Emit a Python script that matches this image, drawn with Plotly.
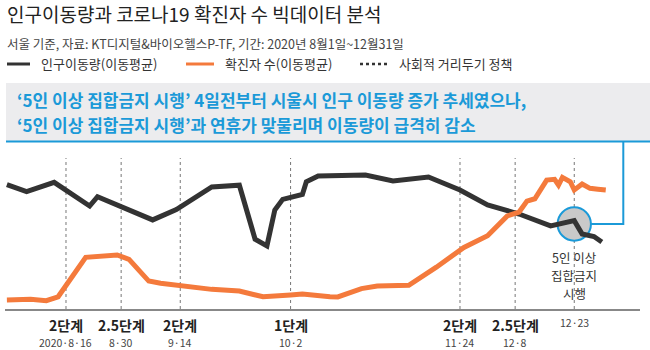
import plotly.graph_objects as go

W, H = 650, 350
FONT = "Noto Sans CJK KR"

# ---- data ----
move_dates = ["2020-08-01", "2020-08-06", "2020-08-13", "2020-08-22", "2020-08-24", "2020-09-07",
              "2020-09-13", "2020-09-22", "2020-09-29", "2020-10-03", "2020-10-06", "2020-10-08",
              "2020-10-10", "2020-10-15", "2020-10-16", "2020-10-19", "2020-10-31", "2020-11-07",
              "2020-11-16", "2020-11-24", "2020-12-01", "2020-12-09", "2020-12-17", "2020-12-23",
              "2020-12-25", "2020-12-28", "2020-12-30"]
move_vals = [82.3, 77.7, 83.9, 68.2, 74.4, 59.0, 65.8, 80.8, 82.0, 46.2, 41.8, 65.6,
             72.6, 75.9, 84.3, 88.1, 88.7, 84.8, 87.4, 78.8, 68.9, 62.9, 55.0, 58.5,
             49.7, 48.0, 44.4]

case_dates = ["2020-08-01", "2020-08-07", "2020-08-11", "2020-08-14", "2020-08-21", "2020-08-29",
              "2020-09-01", "2020-09-06", "2020-09-09", "2020-09-14", "2020-09-22", "2020-09-29",
              "2020-10-05", "2020-10-12", "2020-10-15", "2020-10-22", "2020-10-24", "2020-10-30",
              "2020-11-03", "2020-11-11", "2020-11-18", "2020-11-25", "2020-12-01", "2020-12-06",
              "2020-12-09", "2020-12-11", "2020-12-13", "2020-12-16", "2020-12-18", "2020-12-19",
              "2020-12-20", "2020-12-22", "2020-12-23", "2020-12-25", "2020-12-27", "2020-12-29",
              "2020-12-31"]
case_vals = [6.0, 6.4, 5.5, 8.1, 34.2, 35.8, 32.9, 18.5, 17.0, 15.2, 13.0, 11.9,
             8.1, 9.3, 9.9, 8.1, 8.0, 13.5, 15.2, 15.7, 27.7, 40.8, 48.5, 61.6,
             64.2, 71.5, 73.0, 85.4, 85.9, 82.1, 87.2, 84.3, 78.8, 82.8, 79.9, 79.3,
             78.8]

policy_dates = ["2020-08-16", "2020-08-30", "2020-09-14", "2020-10-12", "2020-11-24", "2020-12-08", "2020-12-23"]
policy_levels = ["2단계", "2.5단계", "2단계", "1단계", "2단계", "2.5단계", ""]
policy_labels = ["2020·8·16", "8·30", "9·14", "10·2", "11·24", "12·8", "12·23"]

highlight_date = "2020-12-23"
highlight_val = 56.3

title = "인구이동량과 코로나19 확진자 수 빅데이터 분석"
subtitle = "서울 기준, 자료: KT디지털&바이오헬스P-TF, 기간: 2020년 8월1일~12월31일"
legend_names = ["인구이동량(이동평균)", "확진자 수(이동평균)", "사회적 거리두기 정책"]
note_lines = ["‘5인 이상 집합금지 시행’ 4일전부터 시울시 인구 이동량 증가 추세였으나,",
              "‘5인 이상 집합금지 시행’과 연휴가 맞물리며 이동량이 급격히 감소"]
circle_lines = ["5인 이상", "집합금지", "시행"]

BLACK = "#333333"
ORANGE = "#f47a3c"
BLUE = "#1b9ad8"


def px(x):
    return x / W


def py(y):
    return 1 - y / H


fig = go.Figure()
fig.add_trace(go.Scatter(x=move_dates, y=move_vals, mode="lines", name=legend_names[0],
                         line=dict(color=BLACK, width=5), hoverinfo="skip"))
fig.add_trace(go.Scatter(x=case_dates, y=case_vals, mode="lines", name=legend_names[1],
                         line=dict(color=ORANGE, width=5), hoverinfo="skip"))

shapes = []
annotations = []

Y_BOT, Y_TOP = 309, 158

# policy dotted lines and labels
for d, lv, lb in zip(policy_dates, policy_levels, policy_labels):
    shapes.append(dict(type="line", xref="x", yref="paper", x0=d, x1=d, y0=py(Y_BOT), y1=py(Y_TOP),
                       line=dict(color="#777777", width=1, dash="dot"), layer="below"))
    if lv:
        annotations.append(dict(x=d, xref="x", y=py(325), yref="paper", text="<b>" + lv + "</b>",
                                showarrow=False, xanchor="center", yanchor="middle",
                                font=dict(family=FONT, size=14, color="#222222")))
        annotations.append(dict(x=d, xref="x", y=py(342.5), yref="paper", text=lb,
                                showarrow=False, xanchor="center", yanchor="middle",
                                font=dict(family=FONT, size=10.5, color="#444444")))
    else:
        annotations.append(dict(x=d, xref="x", y=py(322), yref="paper", text=lb,
                                showarrow=False, xanchor="center", yanchor="middle",
                                font=dict(family=FONT, size=10.5, color="#444444")))

# highlight circle
R = 16.7
shapes.append(dict(type="circle", xref="x", yref="y", xsizemode="pixel", ysizemode="pixel",
                   xanchor=highlight_date, yanchor=highlight_val, x0=-R, x1=R, y0=-R, y1=R,
                   fillcolor="#c9c9c9", line=dict(color=BLUE, width=2), layer="below"))
for i, t in enumerate(circle_lines):
    annotations.append(dict(x=highlight_date, xref="x", y=py(257 + i * 18), yref="paper", text=t,
                            showarrow=False, xanchor="center", yanchor="middle",
                            font=dict(family=FONT, size=12.5, color="#333333")))

# note box
shapes.append(dict(type="rect", xref="paper", yref="paper", x0=px(6), x1=px(650), y0=py(141.5), y1=py(83),
                   fillcolor="#ececee", line=dict(width=0), layer="below"))
shapes.append(dict(type="line", xref="paper", yref="paper", x0=px(6), x1=px(650), y0=py(141.5), y1=py(141.5),
                   line=dict(color=BLUE, width=2.2)))
shapes.append(dict(type="path", xref="paper", yref="paper",
                   path=f"M {px(623.3)},{py(141.5)} L {px(623.3)},{py(224)} L {px(590.5)},{py(224)}",
                   line=dict(color=BLUE, width=2)))
for i, t in enumerate(note_lines):
    annotations.append(dict(x=px(15), y=py(99.5 + i * 25), xref="paper", yref="paper", text="<b>" + t + "</b>",
                            showarrow=False, xanchor="left", yanchor="middle",
                            font=dict(family=FONT, size=17, color=BLUE)))

# title / subtitle
annotations.append(dict(x=px(5), y=py(13.5), xref="paper", yref="paper", text=title, showarrow=False,
                        xanchor="left", yanchor="middle", font=dict(family=FONT, size=19, color="#222222")))
annotations.append(dict(x=px(5), y=py(44), xref="paper", yref="paper", text=subtitle, showarrow=False,
                        xanchor="left", yanchor="middle", font=dict(family=FONT, size=12.5, color="#444444")))

# legend
LY = 64
shapes.append(dict(type="line", xref="paper", yref="paper", x0=px(7), x1=px(30), y0=py(LY), y1=py(LY),
                   line=dict(color=BLACK, width=3)))
shapes.append(dict(type="line", xref="paper", yref="paper", x0=px(186), x1=px(214), y0=py(LY), y1=py(LY),
                   line=dict(color=ORANGE, width=3)))
shapes.append(dict(type="line", xref="paper", yref="paper", x0=px(360), x1=px(388), y0=py(LY), y1=py(LY),
                   line=dict(color=BLACK, width=2.5, dash="dot")))
for xx, name in zip([39, 223, 397], legend_names):
    annotations.append(dict(x=px(xx), y=py(LY), xref="paper", yref="paper", text=name, showarrow=False,
                            xanchor="left", yanchor="middle", font=dict(family=FONT, size=13, color="#333333")))

fig.update_layout(
    width=W, height=H, margin=dict(l=0, r=0, t=0, b=0),
    paper_bgcolor="white", plot_bgcolor="white", showlegend=False,
    shapes=shapes, annotations=annotations,
    xaxis=dict(domain=[px(5), px(640)], range=["2020-07-31 12:30", "2021-01-08 16:30"], type="date",
               showgrid=False, zeroline=False, showticklabels=False, ticks="",
               showline=True, linecolor="#888888", linewidth=1.5),
    yaxis=dict(domain=[py(Y_BOT), py(Y_TOP)], range=[0, 100], showgrid=False, zeroline=False,
               showticklabels=False, ticks="", showline=False),
)

fig.write_html("out.html")
